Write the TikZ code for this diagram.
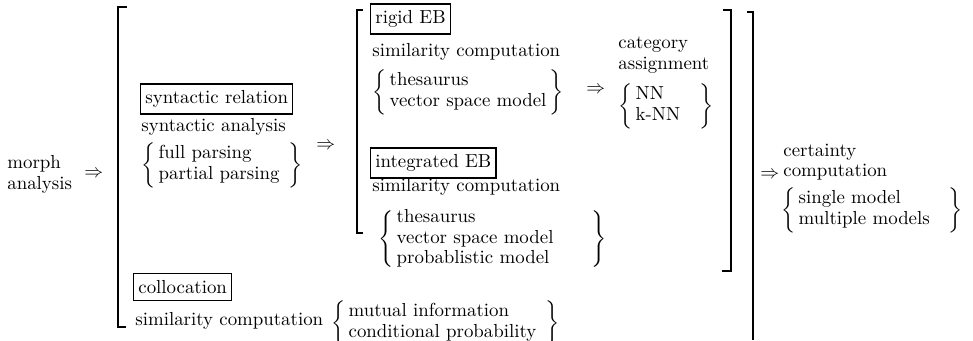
\documentclass[tikz,border=0pt]{standalone}
\usepackage{amsmath}
\usepackage{tikz}
\usetikzlibrary{positioning}

\tikzset{
	titlebox/.style={draw, line width=0.7pt, inner xsep=2.5pt, inner ysep=3.5pt, anchor=west},
	txt/.style={anchor=west, inner sep=0pt, align=left},
	bracket/.style={line width=1pt}
}
% brace block: optional space before the closing brace
\newcommand{\choice}[2][\quad]{$\left\{\begin{tabular}{@{\,}l@{#1}}#2\end{tabular}\right\}$}

\begin{document}
\begin{tikzpicture}[x=0.53pt,y=-0.53pt,font=\fontsize{10}{11}\selectfont]
				\useasboundingbox (0,0) rectangle (973,340);
				% left part
				\node[txt] (morph) at (7,174) {morph\\analysis};
				\node[txt] (arr1) at (84,174) {$\Rightarrow$};
				\draw[bracket] (127,7) -- (118,7) -- (118,327) -- (126,327);
				% syntactic relation
				\node[titlebox] (synrel) at (140,99) {syntactic relation};
				\node[txt] (synana) at (141,127) {syntactic analysis};
				\node[txt] (parsing) at (141,165) {\choice[\enskip]{full parsing\\partial parsing}};
				\node[txt] (arr2) at (316,146) {$\Rightarrow$};
				% EB part
				\draw[bracket] (363,10) -- (357,10) -- (357,233) -- (363,233);
				\node[titlebox] (rigid) at (370,19) {rigid EB};
				\node[txt] (sim1) at (372,52) {similarity computation};
				\node[txt] (rigidsim) at (372,92) {\choice[\,]{thesaurus\\vector space model}};
				\node[txt] (arr3) at (586,90) {$\Rightarrow$};
				\node[txt] (cat) at (618,55) {category\\assignment};
				\node[txt] (nn) at (618,106) {\choice{NN\\k-NN}};
				\node[titlebox] (integ) at (370,163) {integrated EB};
				\node[txt] (sim2) at (372,187) {similarity computation};
				\node[txt] (integsim) at (378,239) {\choice[\qquad]{thesaurus\\vector space model\\probablistic model}};
				\draw[bracket] (723,10) -- (731,10) -- (731,271) -- (722,271);
				% collocation
				\node[titlebox] (colloc) at (133,287) {collocation};
				\node[txt] (sim3) at (135,321) {similarity computation};
				\node[txt] (collocsim) at (331,323) {\choice[\enskip]{mutual information\\conditional probability}};
				\draw[bracket] (747,12) -- (753,12) -- (753,340);
				% certainty
				\node[txt] (arr4) at (760,175) {$\Rightarrow$};
				\node[txt] (cert) at (783,162) {certainty\\computation};
				\node[txt] (certsim) at (781,210) {\choice[\quad]{single model\\multiple models}};
			\end{tikzpicture}
\end{document}
